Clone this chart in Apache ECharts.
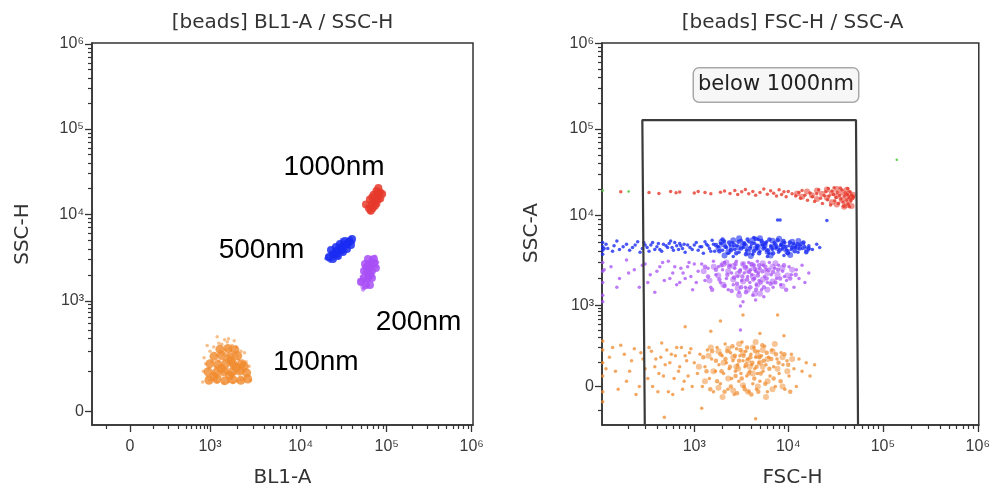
<!DOCTYPE html>
<html><head><meta charset="utf-8">
<script src="https://cdn.jsdelivr.net/npm/echarts@6/dist/echarts.min.js"></script>
<style>html,body{margin:0;padding:0;background:#fff}#c{width:993px;height:490px}</style>
</head><body><div id="c"></div>
<script>
// ---------------- DATA ----------------
const panelTitles = ['[beads] BL1-A / SSC-H', '[beads] FSC-H / SSC-A'];
const axisNamesX = ['BL1-A', 'FSC-H'];
const axisNamesY = ['SSC-H', 'SSC-A'];
const beadLabels = ['1000nm', '500nm', '200nm', '100nm'];
const gateLabel = 'below 1000nm';

const biexTickValues = [0, 1e3, 1e4, 1e5, 1e6];
const biexTickLabels = ['0', '10³', '10⁴', '10⁵', '10⁶'];
const logTickValues = [1e3, 1e4, 1e5, 1e6];
const logTickLabels = ['10³', '10⁴', '10⁵', '10⁶'];
const biexMinorTicks = [-100,100,200,300,400,500,600,700,800,900,2e3,3e3,4e3,5e3,6e3,7e3,8e3,9e3,2e4,3e4,4e4,5e4,6e4,7e4,8e4,9e4,2e5,3e5,4e5,5e5,6e5,7e5,8e5,9e5];
const logMinorTicks = [200,300,400,500,600,700,800,900,2e3,3e3,4e3,5e3,6e3,7e3,8e3,9e3,2e4,3e4,4e4,5e4,6e4,7e4,8e4,9e4,2e5,3e5,4e5,5e5,6e5,7e5,8e5,9e5];

// Left panel events: [BL1-A, SSC-H]
const left1000nmCore = [[62200,11800],[66900,13000],[72300,14500],[78000,16100],[82000,17800],[68700,11800],[76000,13400],[84200,15300],[57400,13000],[63700,14900],[70500,16900],[76000,18800],[88600,17300],[65300,11000],[80000,20300],[73000,12600],[68000,15800],[79500,15000]];
const left1000nm = [[62000,11000],[65000,10500],[66000,11800],[68000,12500],[64000,12200],[70000,13000],[72000,13800],[69000,14500],[74000,14000],[76000,15000],[78000,15800],[73000,15500],[80000,16500],[82000,17500],[85000,18000],[79000,17200],[84000,16200],[88000,18800],[77000,13200],[71000,12000],[67000,13500],[75000,16800],[81000,15200],[86000,19000],[63000,11400],[70000,15800],[83000,19200],[90000,17800],[60000,12300],[74000,18500]];
const left500nmCore = [[21300,3210],[23700,3480],[26400,3770],[29400,4080],[32700,4420],[36400,4790],[23700,3050],[27100,3300],[31000,3670],[34500,3970],[38400,4420],[22500,3870],[25700,4190],[28600,4540],[32700,4920],[39500,5190],[30000,3900],[35000,4600],[26000,3500]];
const left500nm = [[21000,3000],[22000,2900],[23000,3300],[24000,3100],[22500,3500],[25000,3400],[26000,3700],[27000,3500],[25500,3900],[28000,4000],[29000,3800],[30000,4200],[28500,4400],[31000,4500],[32000,4300],[33000,4700],[34000,5000],[35000,4800],[36000,5200],[37000,5000],[38000,5300],[30500,3600],[33500,4100],[26500,4200],[24000,3700],[29500,4700],[35500,4400],[39000,5100],[20500,3300],[27500,3200],[41000,4800],[19800,3100],[30000,5100]];
const left200nmCore = [[57400,1530],[63900,1530],[54400,1840],[60500,1840],[67400,1840],[54400,2220],[60500,2220],[67400,2220],[55900,2670],[62200,2670],[69200,2670],[60500,3050],[71100,3050],[75000,2400],[50200,1660],[58000,2450],[64500,2000],[72000,2750]];
const left200nm = [[52000,1450],[55000,1400],[58000,1500],[50000,1600],[54000,1650],[60000,1700],[56000,1800],[62000,1850],[51000,1900],[58000,2000],[64000,1950],[54000,2100],[60000,2150],[66000,2200],[57000,2300],[63000,2350],[68000,2400],[59000,2500],[65000,2550],[70000,2600],[61000,2700],[67000,2750],[72000,2850],[64000,2950],[69000,3000],[74000,2900],[66000,3150],[48000,1750],[76000,2500],[62000,2450],[78000,2800],[53000,1350],[73000,3250]];
const left100nmCore = [[963,70],[1194,73],[1460,69],[1786,72],[2184,70],[2605,74],[928,98],[1164,95],[1424,99],[1741,96],[2130,100],[2540,94],[1000,131],[1224,127],[1497,132],[1831,126],[2240,130],[1107,168],[1354,173],[1656,166],[2025,171],[1287,212],[1575,218],[1878,210],[1330,110],[1650,85],[1960,115],[2380,120],[1100,82],[1700,145]];
const left100nm = [[1000,70],[1200,65],[1400,62],[1600,66],[1800,64],[2000,68],[2200,72],[2400,75],[1100,90],[1300,85],[1500,95],[1700,88],[1900,92],[2100,98],[2300,100],[950,110],[1150,115],[1350,120],[1550,110],[1750,118],[1950,125],[2150,115],[2450,105],[1050,140],[1250,145],[1450,150],[1650,140],[1850,148],[2050,150],[2250,138],[1200,175],[1400,180],[1600,170],[1800,178],[2000,172],[1300,200],[1500,210],[1700,205],[1900,195],[900,80],[2600,85],[850,130],[2500,140],
[1100,230],[1350,250],[1550,270],[1750,240],[1450,290],[1650,220],[1950,230],[1250,260],[800,160],[2700,120],[1000,200],[2200,200],[900,240],[1600,300],[2400,190],[780,100],[2800,70],[760,65],[1200,320],[1850,280]];

// Right panel events: [FSC-H, SSC-A]
const right1000nmCore = [[12400,18000],[14000,16500],[15800,19000],[17800,17200],[20100,15500],[20100,19500],[22700,17800],[25600,16000],[25600,20000],[28900,14200],[28900,18200],[32600,16800],[32600,13400],[32600,20200],[36800,15200],[36800,18600],[41500,16600],[41500,13200],[41500,19800],[44000,14800],[44000,18000],[46800,16200],[46800,12900],[48500,17400],[39000,12600]];
const right1000nm = [[165,18800],[330,18500],[420,18000],[560,18900],[640,18300],[700,18700],[1000,18200],[1100,19000],[1300,18500],[1500,17900],[1900,18600],[2100,19200],
[2400,18000],[2700,19500],[2900,17500],[3200,18800],[3500,20000],[3800,17800],[4200,19000],[4500,17200],[5000,18500],[5500,20200],[6000,17600],[6500,19300],[7000,18100],[7500,16800],[8000,19800],[8500,17500],[9000,18800],[9500,16500],[10000,19000],[11000,17800],
[12000,16800],[13000,18500],[13500,15800],[14000,19500],[15000,17200],[16000,15000],[17000,18200],[18000,16500],[19000,14500],[20000,17800],[21000,19800],[22000,15800],[23000,13800],[24000,17000],[25000,18800],[26000,15200],[27000,16800],[28000,13200],[29000,19200],[30000,17500],[31000,14800],[32000,16200],[33000,18500],[34000,13800],[35000,17000],[36000,15500],[37000,19800],[38000,14200],[39000,16800],[40000,18200],[41000,15000],[42000,17500],[43000,13500],[44000,16000],[45000,18800],[46000,14800],[47000,17200],[48000,15800],[49000,16500],[38500,12800],[44500,12600],[30500,21000],[35500,20800],[42500,20500],[26500,20500]];
const right500nmCore = [[1810,4350],[2050,4800],[2300,3950],[2600,5300],[2930,4400],[3300,4850],[3730,3900],[4200,5350],[4750,4450],[5350,4900],[6040,3950],[6800,5250],[7690,4350],[8700,4850],[9780,3950],[11000,5100],[12400,4400],[14000,4800],[15800,4200],[2100,3600],[3000,5600],[4000,3550],[5000,5600],[6500,3600],[8000,5500],[10500,3650],[12800,5200],[2500,4400],[3500,4550],[4500,4300],[5600,4600],[7100,4500],[9000,4300],[11500,4550],[1950,5100]];
const right500nmDense = [[1700,4700],[1850,4000],[2000,5400],[2150,4500],[2350,5000],[2450,4100],[2650,4700],[2800,3800],[2950,5100],[3150,4300],[3400,4900],[3550,3700],[3700,5400],[3900,4300],[4100,4900],[4300,4000],[4500,5500],[4700,4600],[4900,3800],[5200,5200],[5450,4300],[5700,4900],[6000,4100],[6300,5400],[6600,4400],[6900,3800],[7300,4800],[7700,5300],[8100,4100],[8500,4700],[8900,5200],[9400,4500],[9900,3800],[10400,5000],[11000,4400],[11700,4000],[12500,4800],[13200,4300],[14500,5000],[15500,3900],[16500,4300]];
const right500nm = [[106,4500],[106,4100],[106,5000],[106,3700],[120,4300],[140,4600],[160,4200],[190,4800],[220,4400],[250,5100],[280,4300],[300,4700],[330,4000],[360,5000],[400,4500],[430,4200],[470,4800],[520,4400],[560,5200],[600,4100],[650,4600],[700,4900],[750,4300],[800,3900],[850,4700],
[110,4300],[115,4800],[135,4000],[150,5200],[175,4500],[205,4100],[235,4700],[265,3900],[290,5000],[315,4400],[345,4700],[380,4200],[415,4900],[450,4000],[500,4600],[540,4900],[580,4400],[620,5000],[680,4200],[720,4600],[780,4800],[900,4400],[1000,4700],[1100,4100],[1200,4500],[1300,5100],[1400,4600],[1500,4000],[1600,4800],
[950,4200],[1050,5000],[1150,4500],[1250,3800],[1350,4800],[1450,4300],[1550,5300],[1650,4000],
[1800,4500],[1900,4900],[2000,4100],[2100,5200],[2200,4400],[2300,3800],[2400,4700],[2550,5000],[2700,4200],[2850,4600],[3000,3900],[3150,5300],[3300,4400],[3450,4800],[3600,4100],[3800,5100],[4000,4500],[4200,3700],[4400,4900],[4600,4300],[4800,5400],[5000,4000],[5300,4700],[5600,4400],[5900,5100],[6200,3800],[6500,4600],[6800,4200],[7100,5000],[7500,4400],[7900,3900],[8300,4700],[8700,4300],[9200,5000],[9700,4100],[10200,4600],[10800,4200],[11400,4900],[12000,4400],[12700,3900],[13400,4700],[14200,4300],[15000,4500],[4300,5700],[2600,3500],[6000,3500],[9000,3600],
[16500,4600],[18000,4200],[20000,4800],[21500,4400],[7700,8900],[8200,8900],[25600,8800]];
const right200nmCore = [[1260,2400],[1450,1900],[1610,2700],[1800,2150],[2040,1700],[2040,2900],[2300,2400],[2600,1950],[2600,2750],[2900,1550],[2900,2250],[3310,2900],[3310,1850],[3700,2450],[3700,1500],[4210,2100],[4210,2800],[4700,1700],[4700,2450],[5360,2950],[5360,1950],[6000,2300],[6000,1500],[6810,2700],[6810,1850],[7700,2200],[8670,2600],[8670,1650],[9800,2150],[11000,2500],[3000,1300],[5000,1350],[2200,3000],[7300,2950],[4400,1350]];
const right200nmDense = [[1300,2700],[1400,2100],[1550,1500],[1700,2500],[1850,1950],[1950,2800],[2100,1650],[2250,2200],[2350,2700],[2500,1450],[2650,2050],[2750,2900],[2850,1750],[3050,2400],[3150,1600],[3250,2100],[3450,2650],[3550,1400],[3650,1950],[3850,2350],[3950,1600],[4050,2900],[4250,1950],[4400,2550],[4550,1500],[4750,2150],[4900,2800],[5100,1800],[5300,2400],[5500,1600],[5700,2700],[5900,2000],[6200,2500],[6500,1750],[6900,2350],[7300,1800],[7800,2500],[8200,2000],[9000,2800],[9500,1500],[10500,2000],[12000,2200]];
const right200nm = [[106,3000],[106,2400],[106,1800],[106,1300],[106,1100],[130,2700],[160,2000],[190,3200],[230,2500],[260,1600],[300,2900],[340,2200],[380,1400],[430,2700],[480,1900],[530,3100],[590,2300],[650,1700],[720,2600],[800,2000],[880,3000],[960,1500],
[110,2500],[150,1600],[200,2300],[280,2800],[320,1800],[400,2400],[460,3000],[550,2000],[620,2700],[700,1800],[760,2300],[850,2700],[920,2100],[1000,2900],[1050,1800],
[1100,2400],[1200,2900],[1300,1900],[1400,2600],[1500,1600],[1600,3100],[1700,2200],[1800,2700],[1900,1800],[2000,2500],[2100,3000],[2200,2000],[2300,1500],[2400,2800],[2500,2300],[2600,1700],[2700,2600],[2800,3100],[2900,2100],[3000,1400],[3100,2500],[3200,1900],[3300,2900],[3400,2300],[3500,1600],[3600,2700],[3700,2100],[3800,3000],[3900,1800],[4000,2500],[4100,2200],[4200,1300],[4300,2800],[4400,2000],[4500,2400],[4600,1700],[4700,3100],[4800,2300],[4900,1900],[5000,2600],[5200,1500],[5400,2800],[5600,2100],[5800,2500],[6000,1800],[6300,3000],[6600,2200],[6900,1600],[7200,2600],[7500,2000],[7900,2800],[8300,1700],[8700,2400],[9100,2100],[9600,1900],[10200,2700],[10800,2200],[11500,1600],[12200,2500],[13000,2000],[14000,2800],[15000,1800],[16500,2300],[4500,1150],[3300,1100],[5500,1250],
[3100,980],[3100,400]];
const right100nmCore = [[1120,80],[1300,20],[1420,140],[1600,60],[1810,-5],[1810,170],[2050,100],[2300,30],[2300,190],[2600,130],[2600,-15],[2930,70],[3300,160],[3300,5],[3730,110],[3730,-20],[4200,50],[4200,200],[4750,140],[4750,0],[5350,80],[5350,180],[6040,20],[6040,120],[6800,170],[6800,-10],[7690,70],[8700,130],[8700,0],[9780,60],[11000,120],[2000,-40],[3000,230],[4500,250],[5800,-40],[1500,200],[7200,230],[3900,80],[2800,80],[5000,100]];
const right100nmDense = [[1250,130],[1350,60],[1480,-10],[1550,170],[1700,110],[1750,20],[1900,150],[1950,60],[2100,-20],[2150,120],[2250,170],[2400,80],[2450,0],[2550,210],[2700,140],[2750,40],[2850,-25],[3000,110],[3100,180],[3200,30],[3350,140],[3450,-10],[3550,90],[3650,200],[3800,50],[3950,130],[4050,-30],[4150,100],[4350,30],[4450,170],[4600,80],[4800,-20],[4950,130],[5100,50],[5300,220],[5500,110],[5700,10],[5900,160],[6300,70],[6600,120],[7000,30],[7400,150],[7900,100],[8300,20],[9100,150],[10000,90],[10500,-20]];
const right100nm = [[106,180],[106,100],[106,40],[106,-20],[106,-60],[106,260],[125,130],[145,60],[165,220],[190,20],[215,110],[240,-30],[270,160],[300,70],[330,200],[360,0],[390,120],[420,50],[450,240],[490,90],[530,-20],[570,150],[610,30],[650,200],[700,80],[750,-10],[800,140],[860,40],[920,190],
[115,70],[135,200],[155,-10],[180,150],[205,60],[230,190],[260,0],[285,120],[320,30],[350,170],[380,80],[410,-20],[440,130],[470,40],[510,180],[550,100],[590,-30],[630,140],[680,60],[730,200],[780,20],[830,110],[890,160],[950,0],
[1000,100],[1080,50],[1150,150],[1220,0],[1300,80],[1380,180],[1450,30],[1530,120],[1600,-20],[1680,60],[1750,200],[1830,90],[1900,10],[1980,140],[2050,50],[2130,230],[2200,100],[2280,-10],[2350,70],[2430,160],[2500,30],[2580,110],[2660,-30],[2740,60],[2820,190],[2900,90],[2980,20],[3060,140],[3140,50],[3220,250],[3300,110],[3380,0],[3460,80],[3540,170],[3620,40],[3700,120],[3800,-20],[3900,60],[4000,150],[4100,90],[4200,10],[4300,200],[4400,70],[4500,130],[4600,-10],[4700,50],[4800,170],[4900,100],[5000,20],[5200,140],[5400,60],[5600,210],[5800,90],[6000,-20],[6200,130],[6400,40],[6700,180],[7000,80],[7300,0],[7600,120],[8000,50],[8400,160],[8800,90],[9200,-10],[9700,110],[10200,40],[10800,150],[11500,70],[12200,0],[13000,120],[14000,60],[15500,100],[17000,40],[19000,90],
[3300,700],[1900,560],[7700,700],[800,450],[1500,380],[5000,350],[9000,320],[480,-140],[4500,-150],[1200,-90]];
const rightOther = [[106,19500],[200,19000],[140000,44000]];

// gate "below 1000nm" vertices [FSC-H, SSC-A]
const gateFSC = [300, 280, 52000, 55000];
const gateSSC = [-1000, 127000, 127000, -1000];

// ---------------- SCALES (biexponential / log display) ----------------
function biex(zero, dec, b) {
  const k = Math.asinh(1000 / b);
  const f = v => {
    if (v < 0) return zero - (f(-v) - zero);
    if (v >= 1000) {
      const l = Math.log10(v) - 3;
      const i = Math.min(Math.max(Math.floor(l), 0), 2);
      return dec[i] + (l - i) * (dec[i + 1] - dec[i]);
    }
    return zero + (dec[0] - zero) * Math.asinh(v / b) / k;
  };
  return f;
}
function logScale(dec) {
  return v => {
    const l = Math.log10(v) - 3;
    const i = Math.min(Math.max(Math.floor(l), 0), 2);
    return dec[i] + (l - i) * (dec[i + 1] - dec[i]);
  };
}
const W = 381, H = 382;
const TXL = biex(38, [118, 208.7, 294.7, 379.7], 100);
const TYL = biex(13.3, [124, 210.7, 296, 381], 60);
const TXR = logScale([93.3, 188.3, 284, 380]);
const TYR = biex(38.5, [119.5, 209.5, 296, 381.7], 100);

const pts = (arr, tx, ty) => arr.map(p => [tx(p[0]), ty(p[1])]);

const FONT_AX = 'Liberation Sans, Arial, sans-serif';
function axisPair(kind, grid, size, tf, majors, labels, minors, margin) {
  const majT = majors.map(tf), minT = minors.map(tf).filter(v => v >= 0 && v <= size);
  const fmt = v => { for (let i = 0; i < majT.length; i++) if (Math.abs(majT[i] - v) < 0.5) return labels[i]; return ''; };
  const pos = kind === 'x' ? 'bottom' : 'left';
  return [
    { gridIndex: grid, type: 'value', min: 0, max: size, position: pos,
      axisLine: { show: true, onZero: false, lineStyle: { color: '#333', width: 1.5 } },
      axisTick: { show: true, length: 7, customValues: majT, lineStyle: { color: '#333', width: 1.3 } },
      axisLabel: { show: true, customValues: majT, formatter: fmt, margin: margin, fontSize: 16, color: '#3a3a3a', fontFamily: FONT_AX },
      splitLine: { show: false } },
    { gridIndex: grid, type: 'value', min: 0, max: size, position: pos,
      axisLine: { show: false, onZero: false },
      axisTick: { show: true, length: 4, customValues: minT, lineStyle: { color: '#333', width: 1.2 } },
      axisLabel: { show: false },
      splitLine: { show: false } }
  ];
}

const xAxes = [].concat(
  axisPair('x', 0, W, TXL, biexTickValues, biexTickLabels, biexMinorTicks, 14),
  axisPair('x', 1, W, TXR, logTickValues, logTickLabels, logMinorTicks, 14));
const yAxes = [].concat(
  axisPair('y', 0, H, TYL, biexTickValues, biexTickLabels, biexMinorTicks, 8),
  axisPair('y', 1, H, TYR, biexTickValues, biexTickLabels, biexMinorTicks, 8));

function sc(data, ax, color, size, opacity) {
  return { type: 'scatter', xAxisIndex: ax, yAxisIndex: ax, data: data, symbol: 'circle', symbolSize: size,
    itemStyle: { color: color, opacity: opacity, borderWidth: 0 }, silent: true, animation: false, clip: true, large: false };
}
const C = { red: '#e63a2b', blue: '#1a2cf2', purple: '#a84ff6', orange: '#f08a2c', green: '#4ccc3a' };

const series = [
  sc(pts(left100nm, TXL, TYL), 0, C.orange, 3.5, 0.55),
  sc(pts(left100nmCore, TXL, TYL), 0, C.orange, 9, 0.8),
  sc(pts(left200nm, TXL, TYL), 0, C.purple, 4, 0.6),
  sc(pts(left200nmCore, TXL, TYL), 0, C.purple, 8, 0.85),
  sc(pts(left500nm, TXL, TYL), 0, C.blue, 4, 0.6),
  sc(pts(left500nmCore, TXL, TYL), 0, C.blue, 8, 0.85),
  sc(pts(left1000nm, TXL, TYL), 0, C.red, 4, 0.6),
  sc(pts(left1000nmCore, TXL, TYL), 0, C.red, 8, 0.85),
  sc(pts(right100nmCore, TXR, TYR), 2, C.orange, 6, 0.5),
  sc(pts(right100nmDense, TXR, TYR), 2, C.orange, 4.5, 0.7),
  sc(pts(right100nm, TXR, TYR), 2, C.orange, 3.5, 0.75),
  sc(pts(right200nmCore, TXR, TYR), 2, C.purple, 6, 0.5),
  sc(pts(right200nmDense, TXR, TYR), 2, C.purple, 4.5, 0.7),
  sc(pts(right200nm, TXR, TYR), 2, C.purple, 3.5, 0.75),
  sc(pts(right500nmCore, TXR, TYR), 2, C.blue, 6, 0.6),
  sc(pts(right500nmDense, TXR, TYR), 2, C.blue, 4.5, 0.8),
  sc(pts(right500nm, TXR, TYR), 2, C.blue, 3.5, 0.8),
  sc(pts(right1000nmCore, TXR, TYR), 2, C.red, 6, 0.55),
  sc(pts(right1000nm, TXR, TYR), 2, C.red, 3.5, 0.8),
  sc(pts(rightOther, TXR, TYR), 2, C.green, 2.5, 0.9),
  { type: 'line', xAxisIndex: 2, yAxisIndex: 2, silent: true, animation: false, clip: true, symbol: 'none',
    data: gateFSC.map((x, i) => [TXR(x), TYR(gateSSC[i])]),
    lineStyle: { color: '#3a3a3a', width: 2.2 } }
];

const TFONT = '"DejaVu Sans", Verdana, sans-serif';
function txt(text, x, y, font, fill, rot, extra) {
  return { type: 'text', x: x, y: y, rotation: rot || 0, silent: true,
    style: Object.assign({ text: text, font: font, fill: fill, align: 'center', verticalAlign: 'middle',
      textAlign: 'center', textVerticalAlign: 'middle' }, extra || {}) };
}
const LFONT = '28px "Liberation Sans", Arial, sans-serif';
const graphics = [
  txt(panelTitles[0], 282.5, 23, '20px ' + TFONT, '#333'),
  txt(panelTitles[1], 792.5, 23, '20px ' + TFONT, '#333'),
  txt(axisNamesX[0], 282.5, 478, '20px ' + TFONT, '#333'),
  txt(axisNamesX[1], 792.5, 478, '20px ' + TFONT, '#333'),
  txt(axisNamesY[0], 23, 234, '20px ' + TFONT, '#333', Math.PI / 2),
  txt(axisNamesY[1], 532, 233, '20px ' + TFONT, '#333', Math.PI / 2),
  txt(beadLabels[0], 334, 167, LFONT, '#000'),
  txt(beadLabels[1], 261.5, 250, LFONT, '#000'),
  txt(beadLabels[2], 418.5, 322, LFONT, '#000'),
  txt(beadLabels[3], 315.8, 362, LFONT, '#000'),
  txt(gateLabel, 776, 85, '21px ' + TFONT, '#222', 0,
    { backgroundColor: '#f7f7f7', borderColor: '#a8a8a8', borderWidth: 1.5, borderRadius: 5, padding: [6, 4, 6, 4] })
];

const chart = echarts.init(document.getElementById('c'), null, { renderer: 'canvas' });
chart.setOption({
  animation: false,
  backgroundColor: '#fff',
  grid: [
    { left: 92, top: 43, width: W, height: H, show: true, borderColor: '#333', borderWidth: 1.5, backgroundColor: 'transparent', containLabel: false },
    { left: 602, top: 43, width: W, height: H, show: true, borderColor: '#333', borderWidth: 1.5, backgroundColor: 'transparent', containLabel: false }
  ],
  xAxis: xAxes,
  yAxis: yAxes,
  series: series,
  graphic: { elements: graphics }
});
</script></body></html>
